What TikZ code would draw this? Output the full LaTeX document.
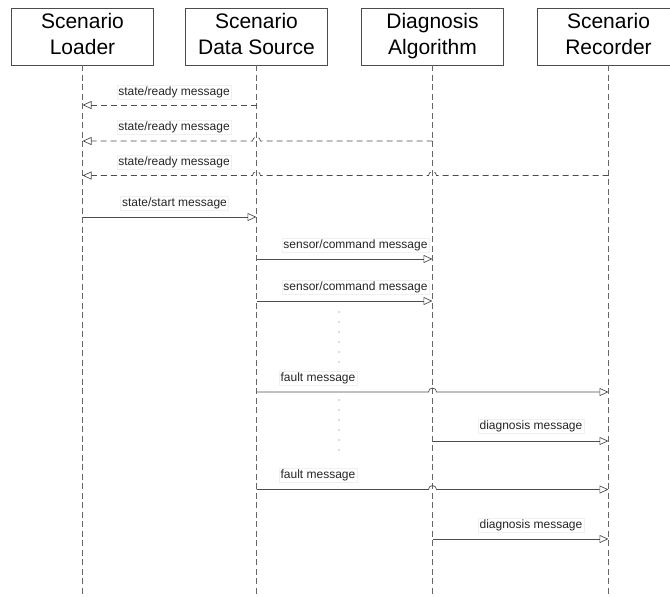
\documentclass[tikz,border=0pt]{standalone}
\usepackage{fontspec}
\setmainfont{Liberation Sans}
\usetikzlibrary{arrows.meta}

\tikzset{
  actor/.style={draw=black!70, line width=0.7pt, minimum width=142pt, minimum height=57pt,
    inner sep=0pt, align=center, font=\fontsize{21}{26}\selectfont},
  lifeline/.style={draw=black!60, line width=0.7pt, dash pattern=on 6pt off 3.5pt},
  msg/.style={draw=black!70, line width=0.7pt, -{Triangle[open, length=9pt, width=8pt]}},
  reply/.style={msg, dash pattern=on 6pt off 4pt},
  lbl/.style={fill=white, draw=black!6, inner sep=1.5pt, text=black!85,
    font=\fontsize{12}{14}\selectfont}
}

\begin{document}
\begin{tikzpicture}[x=1pt, y=-1pt]
	\useasboundingbox (0,0) rectangle (670,597);

	\node[actor] (loader) at (82.5,36.5) {\strut Scenario\\Loader\strut};
	\node[actor] (source) at (256.5,36.5) {\strut Scenario\\Data Source\strut};
	\node[actor] (diag) at (432.5,36.5) {\strut Diagnosis\\Algorithm\strut};
	\node[actor] (rec) at (608.5,36.5) {\strut Scenario\\Recorder\strut};

	\coordinate (bottom) at (0,597);
	\draw[lifeline] (loader) -- (loader |- bottom);
	\draw[lifeline] (source) -- (source |- bottom);
	\draw[lifeline] (diag) -- (diag |- bottom);
	\draw[lifeline] (rec) -- (rec |- bottom);

	\coordinate (m1) at (0,105);
	\coordinate (m2) at (0,141);
	\coordinate (m3) at (0,175.5);
	\coordinate (m4) at (0,217);
	\coordinate (m5) at (0,259);
	\coordinate (m6) at (0,301);
	\coordinate (m7) at (0,392);
	\coordinate (m8) at (0,441);
	\coordinate (m9) at (0,489.5);
	\coordinate (m10) at (0,539);

	\draw[reply] (source |- m1) -- (loader |- m1);
	\draw[reply] (diag |- m2) -- ([xshift=4pt]source |- m2)
		arc[start angle=0, end angle=180, radius=4pt] -- (loader |- m2);
	\draw[reply] (rec |- m3) -- ([xshift=4pt]diag |- m3)
		arc[start angle=0, end angle=180, radius=4pt] -- ([xshift=4pt]source |- m3)
		arc[start angle=0, end angle=180, radius=4pt] -- (loader |- m3);
	\draw[msg] (loader |- m4) -- (source |- m4);
	\draw[msg] (source |- m5) -- (diag |- m5);
	\draw[msg] (source |- m6) -- (diag |- m6);
	\draw[msg] (source |- m7) -- ([xshift=-4pt]diag |- m7)
		arc[start angle=180, end angle=0, radius=4pt] -- (rec |- m7);
	\draw[msg] (diag |- m8) -- (rec |- m8);
	\draw[msg] (source |- m9) -- ([xshift=-4pt]diag |- m9)
		arc[start angle=180, end angle=0, radius=4pt] -- (rec |- m9);
	\draw[msg] (diag |- m10) -- (rec |- m10);

	\node[lbl] (l1) at (174,92) {state/ready message};
	\node[lbl] (l2) at (174,127) {state/ready message};
	\node[lbl] (l3) at (174,162) {state/ready message};
	\node[lbl] (l4) at (174.5,203.5) {state/start message};
	\node[lbl] (l5) at (355.5,245.5) {sensor/command message};
	\node[lbl] (l6) at (355.5,287.5) {sensor/command message};
	\node[lbl] (l7) at (318,378) {fault message};
	\node[lbl] (l8) at (531,426.5) {diagnosis message};
	\node[lbl] (l9) at (318,475.5) {fault message};
	\node[lbl] (l10) at (531,525) {diagnosis message};

	\foreach \y in {312,322,...,362} \fill[black!60] (339,\y) circle (0.6pt);
	\foreach \y in {400,410,...,450} \fill[black!60] (339,\y) circle (0.6pt);
\end{tikzpicture}
\end{document}
